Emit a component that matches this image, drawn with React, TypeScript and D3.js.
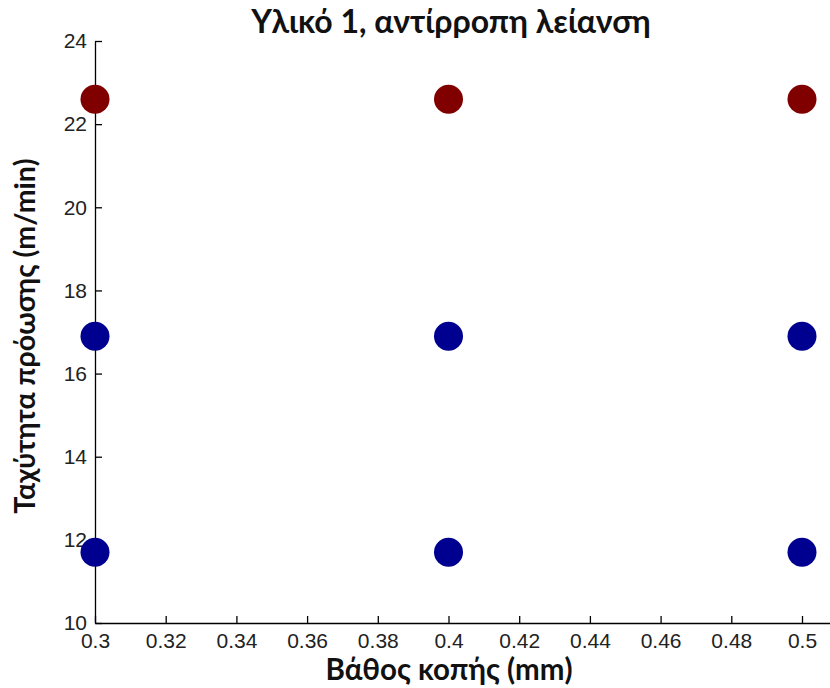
import React, { useEffect, useRef } from "react";
import * as d3 from "d3";

const depths = [0.3, 0.4, 0.5, 0.3, 0.4, 0.5, 0.3, 0.4, 0.5];
const speeds = [22.6, 22.6, 22.6, 16.9, 16.9, 16.9, 11.7, 11.7, 11.7];
const pointColors = ["#800000", "#800000", "#800000", "#000090", "#000090", "#000090", "#000090", "#000090", "#000090"];
const xTicks = [0.3, 0.32, 0.34, 0.36, 0.38, 0.4, 0.42, 0.44, 0.46, 0.48, 0.5];
const yTicks = [10, 12, 14, 16, 18, 20, 22, 24];
const titleText = "Υλικό 1, αντίρροπη λείανση";
const xLabelText = "Βάθος κοπής (mm)";
const yLabelText = "Ταχύτητα πρόωσης (m/min)";

export default function App() {
  const ref = useRef<SVGSVGElement>(null);
  useEffect(() => {
    const svg = d3.select(ref.current);
    svg.selectAll("*").remove();
    const W = 830, H = 688;
    const left = 95, right = 830, top = 41, bottom = 623;
    const x = d3.scaleLinear().domain([0.3, 0.3 + (right - left) / 3535]).range([left, right]);
    const y = d3.scaleLinear().domain([10, 24]).range([bottom, top]);

    svg.append("rect").attr("width", W).attr("height", H).attr("fill", "#fff");

    const xa = svg.append("g").attr("transform", `translate(0,${bottom})`)
      .call(d3.axisBottom(x).tickValues(xTicks).tickSizeInner(-7).tickSizeOuter(0).tickPadding(12).tickFormat((d: any) => String(+d)));
    const ya = svg.append("g").attr("transform", `translate(${left},0)`)
      .call(d3.axisLeft(y).tickValues(yTicks).tickSizeInner(-7).tickSizeOuter(0).tickPadding(8).tickFormat((d: any) => String(d)));
    [xa, ya].forEach(a => {
      a.select(".domain").attr("stroke", "#000").attr("stroke-width", 1.3);
      a.selectAll(".tick line").attr("stroke", "#000").attr("stroke-width", 1.3);
      a.selectAll(".tick text").attr("fill", "#222").attr("font-family", "Liberation Sans").attr("font-size", 21);
    });
    xa.selectAll(".tick text").attr("dy", "0.71em").attr("y", 10);

    svg.append("g").selectAll("circle").data(depths).join("circle")
      .attr("cx", (d) => x(d)).attr("cy", (_d, i) => y(speeds[i])).attr("r", 14.5)
      .attr("fill", (_d, i) => pointColors[i]);

    const lab = "Lato, 'Open Sans', sans-serif";
    svg.append("text").attr("x", 451).attr("y", 33).attr("text-anchor", "middle")
      .attr("font-family", lab).attr("font-weight", 700).attr("font-size", 32).attr("fill", "#111").text(titleText);
    svg.append("text").attr("x", 449).attr("y", 680).attr("text-anchor", "middle")
      .attr("font-family", lab).attr("font-weight", 700).attr("font-size", 29.5).attr("fill", "#111").text(xLabelText);
    svg.append("text").attr("transform", `translate(35,336) rotate(-90)`).attr("text-anchor", "middle")
      .attr("font-family", lab).attr("font-weight", 700).attr("font-size", 28.5).attr("fill", "#111").text(yLabelText);
  }, []);
  return <svg ref={ref} width={830} height={688} style={{ display: "block", position: "absolute", left: 0, top: 0 }} />;
}
